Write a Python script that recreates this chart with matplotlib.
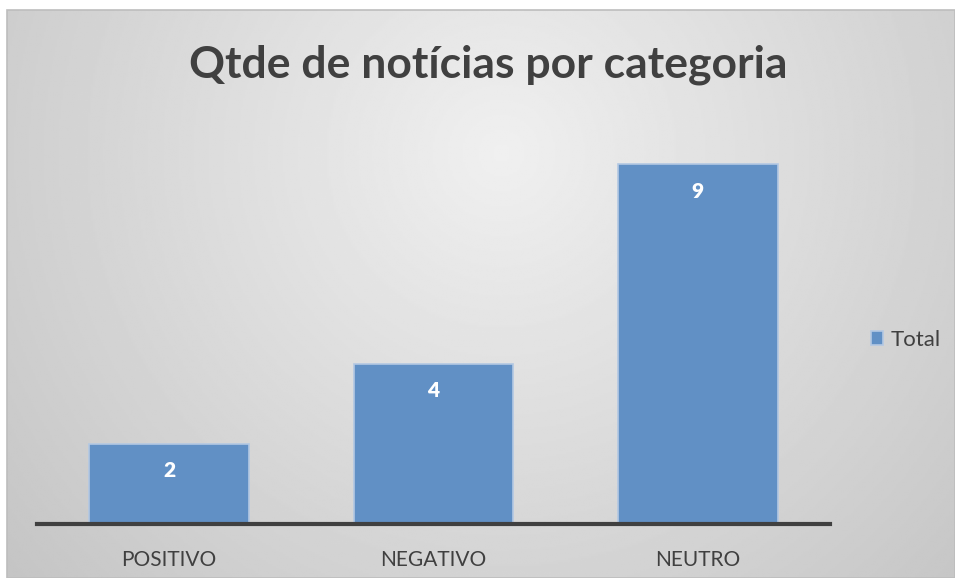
import numpy as np
import matplotlib
matplotlib.use("Agg")
import matplotlib.pyplot as plt

categories = ["POSITIVO", "NEGATIVO", "NEUTRO"]
values = [2, 4, 9]
series_name = "Total"
title = "Qtde de notícias por categoria"

W, H = 955, 578
fig = plt.figure(figsize=(W / 100, H / 100), dpi=100)
fig.patch.set_facecolor("white")

# background gradient panel
bg = fig.add_axes([7 / W, 0, 1 - 7 / W, 1 - 10 / H])
bg.set_axis_off()
ny, nx = 300, 500
yy, xx = np.mgrid[0:ny, 0:nx]
cx, cy = 0.52 * nx, 0.25 * ny
d = np.sqrt(((xx - cx) / nx) ** 2 + ((yy - cy) / ny * 0.6) ** 2)
d = d / d.max()
lo, hi = 0.77, 0.94
val = hi - (hi - lo) * d ** 1.0
bg.imshow(val, cmap="gray", vmin=0, vmax=1, aspect="auto", extent=[0, 1, 0, 1], origin="upper")
bg.set_xlim(0, 1)
bg.set_ylim(0, 1)
fig.patches.append(plt.Rectangle((7 / W, 0), 1 - 7 / W, 1 - 10 / H, transform=fig.transFigure,
                                 fill=False, edgecolor="#bdbdbd", linewidth=1.2))

ax = fig.add_axes([37 / W, 54.5 / H, (830 - 37) / W, 399 / H])
ax.patch.set_alpha(0)
x = np.arange(len(categories))
bars = ax.bar(x, values, width=0.605, color="#6190c5", edgecolor="#b3c8e3", linewidth=1.2,
              label=series_name)
ax.set_xlim(-0.5, len(categories) - 0.5)
ax.set_ylim(0, 10)
for s in ["top", "right", "left"]:
    ax.spines[s].set_visible(False)
ax.spines["bottom"].set_color("#404040")
ax.spines["bottom"].set_linewidth(3)
ax.set_yticks([])
ax.set_xticks(x)
ax.set_xticklabels(categories, fontsize=15, color="#404040", family="Lato")
ax.tick_params(axis="x", length=0, pad=19)

for xi, v in zip(x, values):
    ax.annotate(str(v), (xi, v), xytext=(0, -27), textcoords="offset pixels",
                ha="center", va="center", color="white", fontsize=15, fontweight="heavy", family="Lato")

fig.text(488 / W, 1 - 65 / H, title, ha="center", va="center", fontsize=32, fontweight="bold",
         color="#404040", family="Lato")

leg = ax.legend(loc="center left", bbox_to_anchor=(851 / W, 1 - 340 / H), bbox_transform=fig.transFigure,
                frameon=False, handlelength=0.55, handleheight=0.55, handletextpad=0.35,
                labelcolor="#404040", prop={"family": "Lato", "size": 16})

fig.savefig("out.png", dpi=100)
